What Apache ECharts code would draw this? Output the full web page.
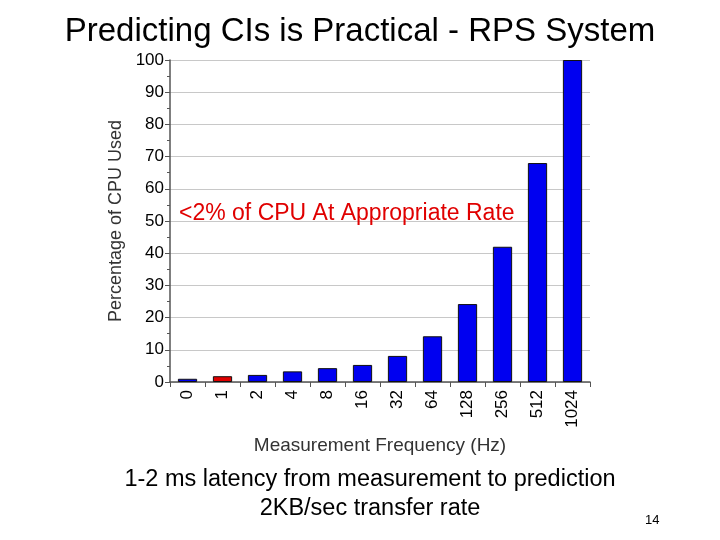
<!DOCTYPE html>
<html>
<head>
<meta charset="utf-8">
<script src="https://cdn.jsdelivr.net/npm/echarts@6/dist/echarts.min.js"></script>
<style>
  body { margin: 0; background: #fff; }
  #chart { width: 720px; height: 540px; }
</style>
</head>
<body>
<div id="chart"></div>
<script>
var frequencies = ['0', '1', '2', '4', '8', '16', '32', '64', '128', '256', '512', '1024']
var cpuUsed = [1, 1.8, 2.2, 3.3, 4.3, 5.3, 8.1, 14.2, 24.2, 42, 68, 100]
var highlightIndex = 1

var myChart = echarts.init(document.getElementById('chart'))
var font = 'Liberation Sans, Arial, sans-serif'

var option = {
  animation: false,
  textStyle: { fontFamily: font },
  title: [
    { text: 'Predicting CIs is Practical - RPS System', left: 'center', top: 10,
      textStyle: { fontSize: 33, fontWeight: 'normal', color: '#000', fontFamily: font } },
    { text: '1-2 ms latency from measurement to prediction\n2KB/sec transfer rate', left: 365, top: 460, textAlign: 'center',
      textStyle: { fontSize: 23.5, fontWeight: 'normal', color: '#000', lineHeight: 29, fontFamily: font } },
    { text: '14', left: 640, top: 509,
      textStyle: { fontSize: 13, fontWeight: 'normal', color: '#000', fontFamily: font } },
    { text: '<2% of CPU At Appropriate Rate', left: 174, top: 197,
      textStyle: { fontSize: 23, fontWeight: 'normal', color: '#e00000', fontFamily: font } }
  ],
  grid: { left: 170, right: 130, top: 60, bottom: 158 },
  xAxis: {
    type: 'category',
    data: frequencies,
    name: 'Measurement Frequency (Hz)',
    nameLocation: 'middle',
    nameGap: 54,
    nameTextStyle: { fontSize: 19, color: '#333' },
    axisLine: { lineStyle: { color: '#555', width: 1.5 } },
    axisTick: { show: true, lineStyle: { color: '#555' } },
    axisLabel: { rotate: 90, fontSize: 17, color: '#000', margin: 8 }
  },
  yAxis: {
    type: 'value',
    min: 0, max: 100, interval: 10,
    name: 'Percentage of CPU Used',
    nameLocation: 'middle',
    nameGap: 42,
    nameTextStyle: { fontSize: 18, color: '#333' },
    axisLine: { show: true, lineStyle: { color: '#555', width: 1.5 } },
    axisTick: { show: true, lineStyle: { color: '#555' } },
    minorTick: { show: true, splitNumber: 2, lineStyle: { color: '#555' } },
    axisLabel: { fontSize: 17, color: '#000', margin: 6 },
    splitLine: { lineStyle: { color: '#c8c8c8' } }
  },
  series: [{
    type: 'bar',
    barWidth: '55%',
    data: cpuUsed.map(function (v, i) {
      return { value: v, itemStyle: { color: i === highlightIndex ? '#e00000' : '#0000f0' } }
    }),
    itemStyle: { borderColor: '#111', borderWidth: 1 }
  }]
}

myChart.setOption(option, true)
</script>
</body>
</html>
